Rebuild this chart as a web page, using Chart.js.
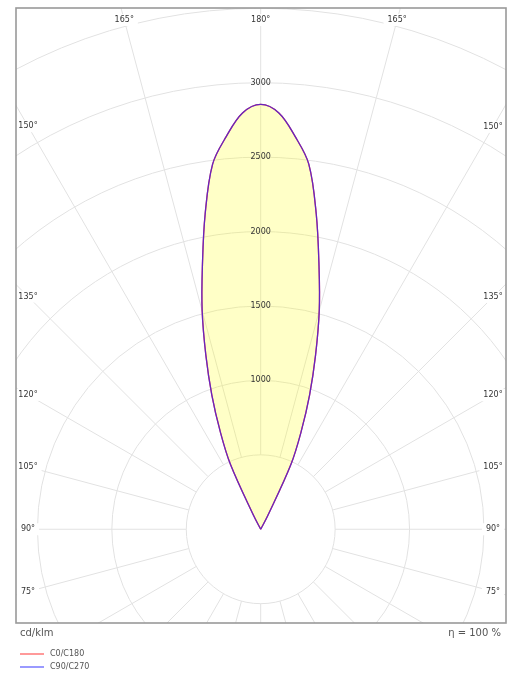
<!DOCTYPE html>
<html>
<head>
<meta charset="utf-8">
<script src="https://cdn.jsdelivr.net/npm/chart.js@4/dist/chart.umd.min.js"></script>
<style>
  html, body { margin: 0; padding: 0; background: #fff; }
  canvas { display: block; }
</style>
</head>
<body>
<canvas id="polar" width="507" height="673"></canvas>
<script>
// --- data (gamma in degrees, 180 = straight up) ---
const gammaDeg = [150, 152.5, 155, 157.5, 160, 162.5, 165, 167.5, 170, 172.5, 175, 177.5, 180];
const c0c180 = [0, 100, 480, 710, 960, 1225, 1520, 1810, 2150, 2475, 2650, 2800, 2855];
const c90c270 = [0, 100, 480, 710, 960, 1225, 1520, 1810, 2150, 2475, 2650, 2800, 2855];
const seriesNames = ['C0/C180', 'C90/C270'];
const ringValues = [500, 1000, 1500, 2000, 2500, 3000, 3500, 4000, 4500];
const ringLabels = [1000, 1500, 2000, 2500, 3000];
const spokeStep = 15;
const angleLabels = [75, 90, 105, 120, 135, 150, 165, 180];
const unitText = 'cd/klm';
const etaText = 'η = 100 %';

const FONT = '"DejaVu Sans", Verdana, sans-serif';
const rad = d => d * Math.PI / 180;

// polar curve -> closed outline, one half mirrored
const toPoints = (vals) => {
    const pts = [];
    for (let i = 0; i < gammaDeg.length; i++) {
        const g = rad(gammaDeg[i]);
        pts.push({ x: -vals[i] * Math.sin(g), y: -vals[i] * Math.cos(g) });
    }
    for (let i = gammaDeg.length - 2; i >= 0; i--) {
        const g = rad(gammaDeg[i]);
        pts.push({ x: vals[i] * Math.sin(g), y: -vals[i] * Math.cos(g) });
    }
    return pts;
};

const gridPlugin = {
    id: 'polarGrid',
    beforeDatasetsDraw(chart) {
        const { ctx, chartArea: a, scales: { x, y } } = chart;
        const cx = x.getPixelForValue(0), cy = y.getPixelForValue(0);
        const r = v => x.getPixelForValue(v) - cx;
        ctx.save();
        ctx.beginPath();
        ctx.rect(a.left, a.top, a.right - a.left, a.bottom - a.top);
        ctx.clip();
        ctx.strokeStyle = '#e2e2e2';
        ctx.lineWidth = 1;
        ringValues.forEach(v => {
            ctx.beginPath();
            ctx.arc(cx, cy, r(v), 0, Math.PI * 2);
            ctx.stroke();
        });
        const r0 = r(ringValues[0]), r1 = r(6000);
        for (let d = 0; d < 360; d += spokeStep) {
            const dx = Math.sin(rad(d)), dy = Math.cos(rad(d));
            ctx.beginPath();
            ctx.moveTo(cx + dx * r0, cy + dy * r0);
            ctx.lineTo(cx + dx * r1, cy + dy * r1);
            ctx.stroke();
        }
        ctx.restore();
    },
    afterDatasetsDraw(chart) {
        const { ctx, chartArea: a, scales: { x, y } } = chart;
        const cx = x.getPixelForValue(0), cy = y.getPixelForValue(0);
        const r = v => x.getPixelForValue(v) - cx;
        ctx.save();
        // ring values along the vertical axis
        ctx.font = '8px ' + FONT;
        ctx.fillStyle = '#333';
        ctx.textAlign = 'center';
        ctx.textBaseline = 'middle';
        ringLabels.forEach(v => ctx.fillText(String(v), cx, cy - r(v)));

        // angle labels where each spoke meets an inset box
        const L = a.left + 12, R = a.right - 13, T = a.top + 12, B = a.bottom - 10;
        angleLabels.forEach(g => {
            [-1, 1].forEach(side => {
                if (g === 180 && side === 1) return;
                const dx = side * Math.sin(rad(g)), dy = Math.cos(rad(g));
                let t = Infinity;
                if (dx < -1e-9) t = Math.min(t, (L - cx) / dx);
                if (dx > 1e-9) t = Math.min(t, (R - cx) / dx);
                if (dy < -1e-9) t = Math.min(t, (T - cy) / dy);
                const px = cx + dx * t, py = cy + dy * t;
                if (py > B) return;
                const txt = g + '°';
                const w = ctx.measureText(txt).width;
                ctx.fillStyle = '#fff';
                ctx.fillRect(px - w / 2 - 4, py - 6, w + 8, 12);
                ctx.fillStyle = '#333';
                ctx.fillText(txt, px, py);
            });
        });
        ctx.restore();
    },
    afterDraw(chart) {
        const { ctx, chartArea: a } = chart;
        ctx.save();
        ctx.strokeStyle = '#999';
        ctx.lineWidth = 1.6;
        ctx.strokeRect(a.left, a.top, a.right - a.left, a.bottom - a.top);

        ctx.font = '10px ' + FONT;
        ctx.fillStyle = '#555';
        ctx.textBaseline = 'middle';
        ctx.textAlign = 'left';
        ctx.fillText(unitText, a.left + 4, a.bottom + 10);
        ctx.textAlign = 'right';
        ctx.fillText(etaText, a.right - 5, a.bottom + 10);

        // legend
        ctx.font = '8px ' + FONT;
        ctx.textAlign = 'left';
        const legendColors = ['#ff9a9a', '#9a9aff'];
        chart.data.datasets.forEach((ds, i) => {
            const ly = a.bottom + 31 + i * 13;
            ctx.strokeStyle = legendColors[i];
            ctx.lineWidth = 2;
            ctx.beginPath();
            ctx.moveTo(a.left + 4, ly);
            ctx.lineTo(a.left + 28, ly);
            ctx.stroke();
            ctx.fillStyle = '#555';
            ctx.fillText(ds.label, a.left + 34, ly);
        });
        ctx.restore();
    }
};

new Chart(document.getElementById('polar'), {
    type: 'scatter',
    data: {
        datasets: [
            {
                label: seriesNames[0],
                data: toPoints(c0c180),
                showLine: true,
                borderColor: 'rgb(255,30,30)',
                borderWidth: 1.3,
                backgroundColor: 'rgba(255,255,0,0.22)',
                fill: 'shape',
                pointRadius: 0,
                tension: 0.35,
                order: 2
            },
            {
                label: seriesNames[1],
                data: toPoints(c90c270),
                showLine: true,
                borderColor: 'rgba(40,40,255,0.72)',
                borderWidth: 1.3,
                backgroundColor: 'transparent',
                fill: false,
                pointRadius: 0,
                tension: 0.35,
                order: 1
            }
        ]
    },
    options: {
        responsive: false,
        animation: false,
        layout: { padding: { left: 16, right: 1, top: 8, bottom: 50 } },
        plugins: { legend: { display: false }, tooltip: { enabled: false } },
        scales: {
            x: { type: 'linear', display: false, min: -1644, max: 1648 },
            y: { type: 'linear', display: false, min: -630, max: 3503 }
        }
    },
    plugins: [gridPlugin]
});
</script>
</body>
</html>
